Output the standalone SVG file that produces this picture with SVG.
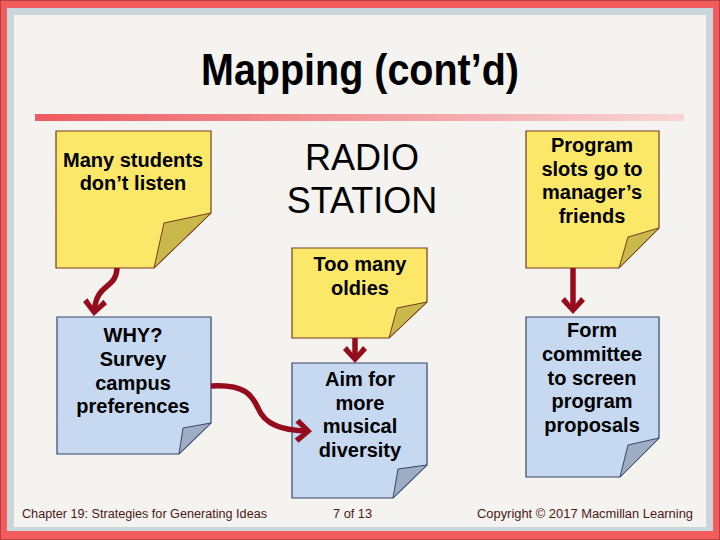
<svg xmlns="http://www.w3.org/2000/svg" width="720" height="540" viewBox="0 0 720 540">
<defs>
<linearGradient id="bar" x1="0" y1="0" x2="1" y2="0">
<stop offset="0" stop-color="#ef5a5e"/>
<stop offset="1" stop-color="#f8d6d6"/>
</linearGradient>
<marker id="ah" viewBox="-20 -14 22 28" refX="-6" refY="0" markerWidth="22" markerHeight="28" markerUnits="userSpaceOnUse" orient="auto">
<path d="M0,0 L-13,-12 L-17,-8 L-7,0 L-17,8 L-13,12 Z" fill="#950c1c"/>
</marker>
<style>
.y{fill:#fbe869;stroke:#7a3a1c;stroke-width:1.2}
.yf{fill:#c9b84a;stroke:#7a3a1c;stroke-width:1}
.b{fill:#c6d9f1;stroke:#34476a;stroke-width:1.2}
.bf{fill:#9dadc4;stroke:#34476a;stroke-width:1}
.t{font-family:"Liberation Sans",Arial,sans-serif;font-weight:bold;font-size:20px;fill:#000;text-anchor:middle}
.c{fill:none;stroke:#950c1c;stroke-width:5.5;marker-end:url(#ah)}
.f{font-family:"Liberation Sans",Arial,sans-serif;font-size:12.5px;fill:#4a1818}
</style>
</defs>
<rect x="0" y="0" width="720" height="540" fill="#f25c5c"/>
<rect x="0.5" y="0.5" width="719" height="539" fill="none" stroke="#b84040" stroke-width="1"/>
<rect x="7" y="8" width="706" height="523" fill="#c9d7dd"/>
<rect x="14" y="15" width="692" height="512" fill="#f4f3ef"/>
<text x="360" y="85" font-family="Liberation Sans,Arial,sans-serif" font-weight="bold" font-size="44" text-anchor="middle" textLength="318" lengthAdjust="spacingAndGlyphs">Mapping (cont’d)</text>
<rect x="35" y="114" width="649" height="7" fill="url(#bar)"/>

<g id="n1">
<path class="y" d="M56,131 H211 V213 L154,268 H56 Z"/>
<path class="yf" d="M211,213 L164,223 L154,268 Z"/>
<text class="t" x="133" y="167">Many students</text>
<text class="t" x="133" y="190">don’t listen</text>
</g>

<g id="n2">
<text x="362" y="170" font-family="Liberation Sans,Arial,sans-serif" font-size="36" text-anchor="middle">RADIO</text>
<text x="362" y="213" font-family="Liberation Sans,Arial,sans-serif" font-size="36" text-anchor="middle">STATION</text>
</g>

<g id="n3">
<path class="y" d="M526,131 H659 V228 L619,268 H526 Z"/>
<path class="yf" d="M659,228 L628,237 L619,268 Z"/>
<text class="t" x="592" y="152">Program</text>
<text class="t" x="592" y="175.5">slots go to</text>
<text class="t" x="592" y="199">manager’s</text>
<text class="t" x="592" y="222.5">friends</text>
</g>

<g id="n4">
<path class="y" d="M292,248 H427 V302 L389,338 H292 Z"/>
<path class="yf" d="M427,302 L397,308 L389,338 Z"/>
<text class="t" x="360" y="271">Too many</text>
<text class="t" x="360" y="295">oldies</text>
</g>

<g id="n5">
<path class="b" d="M57,317 H211 V423 L179,454 H57 Z"/>
<path class="bf" d="M211,423 L183,428 L179,454 Z"/>
<text class="t" x="133" y="342">WHY?</text>
<text class="t" x="133" y="366">Survey</text>
<text class="t" x="133" y="389.5">campus</text>
<text class="t" x="133" y="413">preferences</text>
</g>

<g id="n6">
<path class="b" d="M292,363 H427 V465 L393,498 H292 Z"/>
<path class="bf" d="M427,465 L398,469 L393,498 Z"/>
<text class="t" x="360" y="386">Aim for</text>
<text class="t" x="360" y="410">more</text>
<text class="t" x="360" y="433">musical</text>
<text class="t" x="360" y="457">diversity</text>
</g>

<g id="n7">
<path class="b" d="M526,317 H659 V438 L620,477 H526 Z"/>
<path class="bf" d="M659,438 L628,445 L620,477 Z"/>
<text class="t" x="592" y="337">Form</text>
<text class="t" x="592" y="361">committee</text>
<text class="t" x="592" y="384.5">to screen</text>
<text class="t" x="592" y="408">program</text>
<text class="t" x="592" y="432">proposals</text>
</g>

<g id="connectors">
<path class="c" d="M117,268 C116,290 97,282 94.4,310"/>
<path class="c" d="M211,386 C245,384 252,395 258,408 C265,425 282,430 306,431"/>
<path class="c" d="M355,338 L355,357"/>
<path class="c" d="M573,268 L573,308"/>
</g>

<text class="f" x="22" y="518" textLength="245" lengthAdjust="spacingAndGlyphs">Chapter 19: Strategies for Generating Ideas</text>
<text class="f" x="333" y="518" textLength="39" lengthAdjust="spacingAndGlyphs">7 of 13</text>
<text class="f" x="477" y="518" textLength="216" lengthAdjust="spacingAndGlyphs">Copyright © 2017 Macmillan Learning</text>
</svg>
